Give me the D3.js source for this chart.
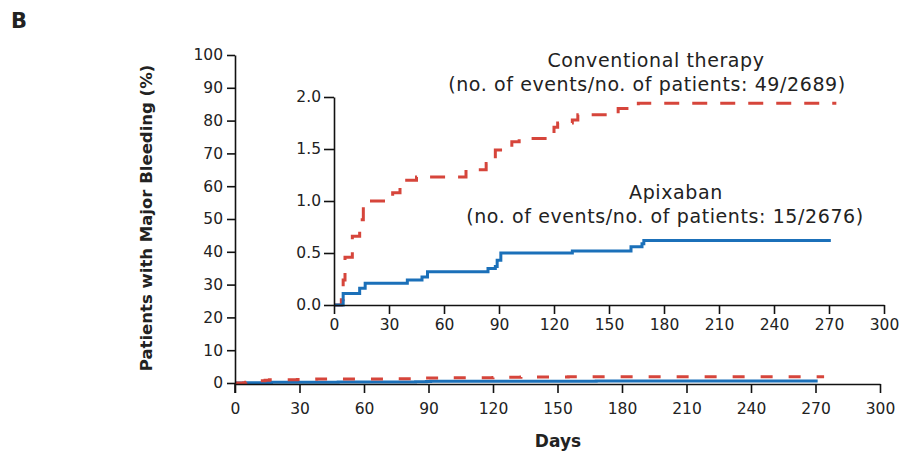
<!DOCTYPE html>
<html><head><meta charset="utf-8">
<script src="https://cdn.jsdelivr.net/npm/d3@7"></script>
<style>
body{margin:0;background:#fff;}
svg text{font-family:"DejaVu Sans",sans-serif;fill:#222;}
</style></head>
<body><svg id="c" width="914" height="461"></svg>
<script>
// Cumulative incidence of major bleeding (%), step data
const conventionalDays = [0, 4, 5, 6, 10, 14, 16, 29, 32, 36, 38, 45, 72, 83, 85, 88, 97, 101, 116, 120, 122, 130, 133, 155, 166, 274];
const conventionalPct  = [0, 0.05, 0.24, 0.46, 0.66, 0.82, 1.0, 1.04, 1.08, 1.14, 1.2, 1.23, 1.3, 1.36, 1.4, 1.49, 1.57, 1.6, 1.62, 1.71, 1.75, 1.78, 1.83, 1.89, 1.94, 1.94];
const apixabanDays = [0, 5, 14, 17, 40, 48, 51, 84, 88, 89, 91, 130, 162, 168, 169, 271];
const apixabanPct  = [0, 0.11, 0.16, 0.21, 0.24, 0.27, 0.32, 0.35, 0.37, 0.43, 0.5, 0.52, 0.56, 0.59, 0.62, 0.62];
const mainYTicks = [0,10,20,30,40,50,60,70,80,90,100];
const dayTicks = [0,30,60,90,120,150,180,210,240,270,300];
const insetYTicks = [0,0.5,1.0,1.5,2.0];
const panelLabel = "B";
const yTitle = "Patients with Major Bleeding (%)";
const xTitle = "Days";
const convLabel = ["Conventional therapy", "(no. of events/no. of patients: 49/2689)"];
const apixLabel = ["Apixaban", "(no. of events/no. of patients: 15/2676)"];

const RED = "#d6453b", BLUE = "#1b70b9";
const svg = d3.select("#c");
const conv = conventionalDays.map((d,i)=>({x:d,y:conventionalPct[i]}));
const apix = apixabanDays.map((d,i)=>({x:d,y:apixabanPct[i]}));

function styleAxis(g, fs){
  g.selectAll(".domain").attr("stroke","#111").attr("stroke-width",1.6);
  g.selectAll(".tick line").attr("stroke","#111").attr("stroke-width",1.6);
  g.selectAll(".tick text").style("font-size",fs+"px").style("font-family","'DejaVu Sans',sans-serif").attr("fill","#222");
}

// Main chart
const x = d3.scaleLinear().domain([0,300]).range([235,880]);
const y = d3.scaleLinear().domain([0,100]).range([383,55]);
const line = d3.line().x(d=>x(d.x)).y(d=>y(d.y)).curve(d3.curveStepAfter);

svg.append("path").datum(apix).attr("d",line).attr("fill","none").attr("stroke",BLUE).attr("stroke-width",3);
svg.append("path").datum(conv).attr("d",line).attr("fill","none").attr("stroke",RED).attr("stroke-width",3).attr("stroke-dasharray","12,16");

const gx = svg.append("g").attr("transform","translate(0,384)")
  .call(d3.axisBottom(x).tickValues(dayTicks).tickSize(9).tickPadding(10).tickSizeOuter(0));
styleAxis(gx,15.5);
const gy = svg.append("g").attr("transform","translate(235,0)")
  .call(d3.axisLeft(y).tickValues(mainYTicks).tickSize(8).tickPadding(4).tickSizeOuter(0));
styleAxis(gy,15.5);
svg.append("line").attr("x1",235).attr("x2",235).attr("y1",383).attr("y2",393).attr("stroke","#111").attr("stroke-width",1.6);

// Inset
const xi = d3.scaleLinear().domain([0,300]).range([334,884]);
const yi = d3.scaleLinear().domain([0,2]).range([305,97]);
const linei = d3.line().x(d=>xi(d.x)).y(d=>yi(d.y)).curve(d3.curveStepAfter);
svg.append("path").datum(conv).attr("d",linei).attr("fill","none").attr("stroke",RED).attr("stroke-width",3).attr("stroke-dasharray","15,13");
svg.append("path").datum(apix).attr("d",linei).attr("fill","none").attr("stroke",BLUE).attr("stroke-width",3);

const gxi = svg.append("g").attr("transform","translate(0,305)")
  .call(d3.axisBottom(xi).tickValues(dayTicks).tickSize(9).tickPadding(5).tickSizeOuter(0));
styleAxis(gxi,15.5);
const gyi = svg.append("g").attr("transform","translate(334,0)")
  .call(d3.axisLeft(yi).tickValues(insetYTicks).tickFormat(d3.format(".1f")).tickSize(10).tickPadding(3).tickSizeOuter(0));
styleAxis(gyi,15.5);

// Labels
svg.append("text").attr("x",11).attr("y",28).text(panelLabel).style("font-size","21px").style("font-weight","bold").attr("fill","#111");
svg.append("text").attr("transform","translate(152,218) rotate(-90)").attr("text-anchor","middle")
  .text(yTitle).style("font-size","16.5px").style("font-weight","bold").attr("fill","#111");
svg.append("text").attr("x",558).attr("y",447).attr("text-anchor","middle")
  .text(xTitle).style("font-size","17px").style("font-weight","bold").attr("fill","#111");

const cl = svg.append("text").attr("text-anchor","middle").style("font-size","19px").style("letter-spacing","0.6px");
cl.append("tspan").attr("x",656).attr("y",67).text(convLabel[0]);
cl.append("tspan").attr("x",647).attr("y",91).text(convLabel[1]);
const al = svg.append("text").attr("text-anchor","middle").style("font-size","19px").style("letter-spacing","0.6px");
al.append("tspan").attr("x",676).attr("y",199).text(apixLabel[0]);
al.append("tspan").attr("x",665).attr("y",223).text(apixLabel[1]);
</script></body></html>
